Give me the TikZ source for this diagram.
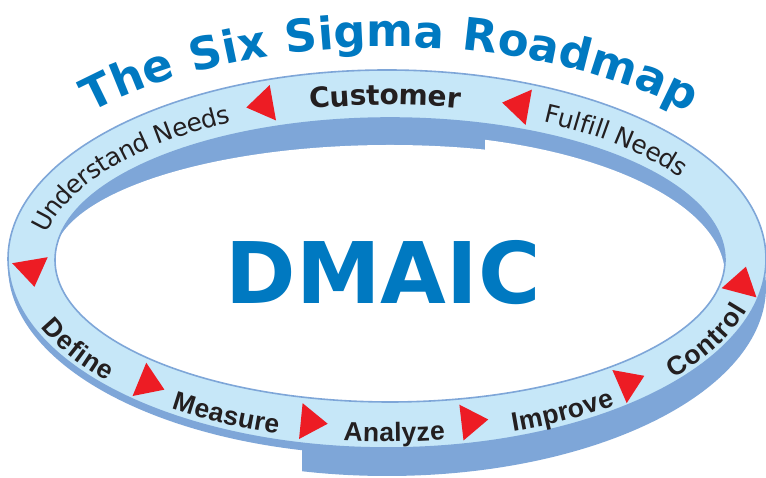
\documentclass[tikz,border=0pt]{standalone}
\usepackage{fontspec}
\setmainfont{DejaVu Sans}
\newfontfamily\headfont[LetterSpace=5]{DejaVu Sans}
\newfontfamily\stagefont{Liberation Sans}
\usetikzlibrary{decorations.text, positioning}
\definecolor{ringblue}{HTML}{C6E7F8}
\definecolor{edgeblue}{HTML}{7EA6D8}
\definecolor{titleblue}{HTML}{0079C1}
\definecolor{arrowred}{HTML}{ED1C24}
\definecolor{labelink}{HTML}{231F20}
\newcommand\titlefmt{\headfont\bfseries\fontsize{45}{45}\selectfont}
\newcommand\custfmt{\bfseries\fontsize{28}{28}\selectfont}
\newcommand\needfmt{\fontsize{25}{25}\selectfont}
\newcommand\stagefmt{\stagefont\bfseries\fontsize{26.5}{26.5}\selectfont}
\tikzset{%
	ring/.style={fill=ringblue},
	rim/.style={draw=edgeblue, line width=1.6pt},
	wall/.style={fill=edgeblue},
	hole/.style={fill=white},
	flow/.style={fill=arrowred},
	bigword/.style={font=\bfseries\fontsize{85}{85}\selectfont, text=titleblue, inner sep=0pt},
	toplabel/.style={decorate, decoration={text along path, text align=center,%
		raise=-11pt, text color=labelink, text={#1}}},
	stagelabel/.style={decorate, decoration={text along path, text align=center,%
		raise=-16pt, text color=labelink, text={#1}}},
	headline/.style={decorate, decoration={text along path, text align=center,%
		text color=titleblue, text={#1}}}
}
\newcommand\flowtri[1]{%
	\pgfmathsetmacro\tang{atan2(166*cos(#1), -357*sin(#1))}%
	\pgfmathsetmacro\tx{388+357*cos(#1)}%
	\pgfmathsetmacro\ty{218+166*sin(#1)}%
	\begin{scope}[shift={(\tx,\ty)}, rotate=\tang]
		\fill[flow] (14,0) -- (-13,18) -- (-13,-18) -- cycle;
	\end{scope}}

\begin{document}
\begin{tikzpicture}[x=1pt, y=1pt]
	\useasboundingbox (0,0) rectangle (766,478);
	\fill[white] (0,0) rectangle (766,478);
	\coordinate (mid) at (388,218);
	\coordinate (outer) at (387,219);
	\coordinate (inner) at (390,218);
	\coordinate (arch) at (390,219);

	% outer wall of the ring
	\begin{scope}
		\clip (302,0) rectangle (766,478);
		\fill[wall] ([yshift=-28pt]outer) ellipse [x radius=379, y radius=189];
	\end{scope}
	\begin{scope}
		\clip (0,0) rectangle (302,478);
		\fill[wall] ([yshift=-7pt]outer) ellipse [x radius=379, y radius=189];
	\end{scope}
	\fill[ring] (outer) ellipse [x radius=379, y radius=189];

	% inner wall and hole
	\fill[wall] (inner) ellipse [x radius=335, y radius=142];
	\begin{scope}
		\clip (inner) ellipse [x radius=335, y radius=142];
		\begin{scope}
			\clip (0,0) rectangle (485,478);
			\fill[hole] (inner) ellipse [x radius=337, y radius=115];
			\fill[hole] (0,0) rectangle (766,218);
		\end{scope}
		\begin{scope}
			\clip (485,0) rectangle (766,478);
			\fill[hole] ([yshift=-16pt]inner) ellipse [x radius=335, y radius=142];
		\end{scope}
	\end{scope}
	\draw[rim] (outer) ellipse [x radius=379, y radius=189];
	\draw[rim] (inner) ellipse [x radius=335, y radius=142];

	\node[bigword] (dmaic) at (383,205) {DMAIC};

	\path[headline={|\titlefmt|The Six Sigma Roadmap}] (arch) ++(150:414 and 212)
		arc [start angle=150, end angle=30, x radius=414, y radius=212];

	\path[toplabel={|\needfmt|Understand Needs}] (mid) ++(170:357 and 166)
		arc [start angle=170, end angle=116, x radius=357, y radius=166];
	\path[toplabel={|\custfmt|Customer}] (mid) ++(103:357 and 166)
		arc [start angle=103, end angle=78, x radius=357, y radius=166];
	\path[toplabel={|\needfmt|Fulfill Needs}] (mid) ++(64:357 and 166)
		arc [start angle=64, end angle=33, x radius=357, y radius=166];

	\path[stagelabel={|\stagefmt|Define}] (mid) ++(196:357 and 166)
		arc [start angle=196, end angle=223, x radius=357, y radius=166];
	\path[stagelabel={|\stagefmt|Measure}] (mid) ++(233:357 and 166)
		arc [start angle=233, end angle=253, x radius=357, y radius=166];
	\path[stagelabel={|\stagefmt|Analyze}] (mid) ++(263:357 and 166)
		arc [start angle=263, end angle=279, x radius=357, y radius=166];
	\path[stagelabel={|\stagefmt|Improve}] (mid) ++(290:357 and 166)
		arc [start angle=290, end angle=308.5, x radius=357, y radius=166];
	\path[stagelabel={|\stagefmt|Control}] (mid) ++(319:357 and 166)
		arc [start angle=319, end angle=348, x radius=357, y radius=166];

	\foreach \t in {111,69,184.5,228.5,258,284,313,353}
		{\flowtri{\t}}
\end{tikzpicture}
\end{document}
